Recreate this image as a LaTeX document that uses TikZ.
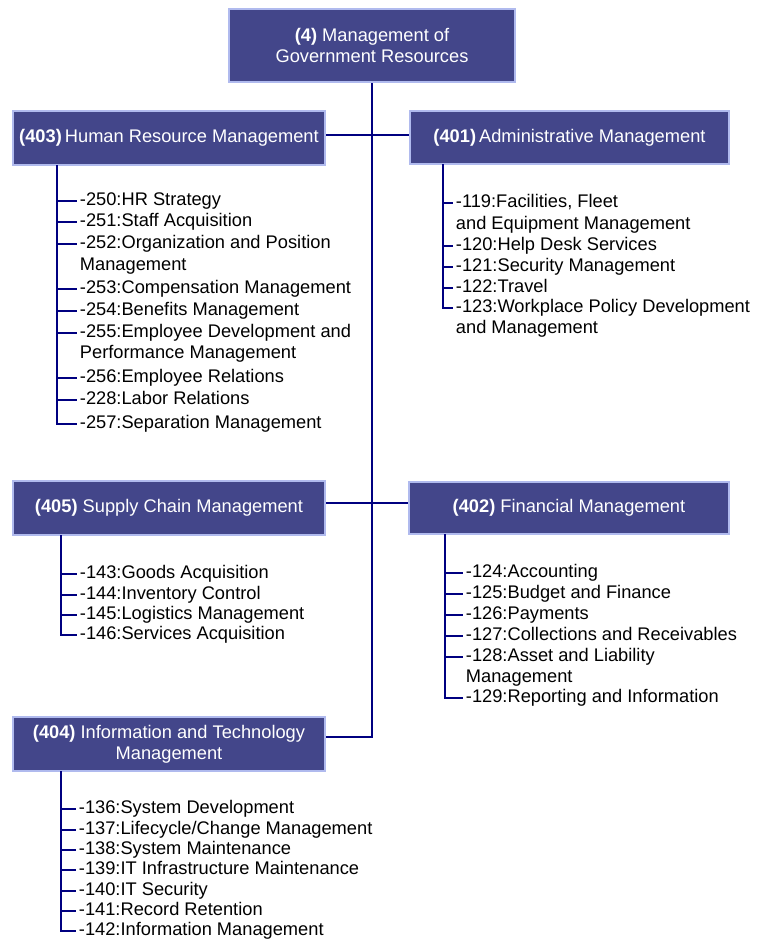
\documentclass[tikz,border=0pt]{standalone}
\usepackage{fontspec}
\setmainfont{Liberation Sans}
\definecolor{boxblue}{HTML}{43468A}
\definecolor{boxedge}{HTML}{B0BAEE}
\definecolor{linknavy}{HTML}{000080}

\begin{document}
\begin{tikzpicture}[x = 0.75pt, y = -0.75pt,
	area/.style = {fill=boxblue, draw=boxedge, line width=1.5pt, text=white, align=center, inner sep=0, font=\fontsize{13.7}{15.5}\selectfont},
	item/.style = {anchor=west, inner xsep=2pt, inner ysep=0, text height=10pt, text depth=3pt, font=\fontsize{13.7}{15.5}\selectfont},
	link/.style = {draw=linknavy, line width=1.5pt}]
	\useasboundingbox (0, 0) rectangle (764, 943);
	% boxes
	\node[area, minimum width=214.5pt, minimum height=54.75pt] (top) at (372, 45.5){\textbf{(4)} Management of\\Government Resources};
	\node[area, minimum width=234pt, minimum height=40.5pt] (hr) at (169, 137.5){\textbf{(403)}\,Human Resource Management};
	\node[area, minimum width=239.25pt, minimum height=39.75pt] (adm) at (569.5, 137.5){\textbf{(401)}\,Administrative Management};
	\node[area, minimum width=234pt, minimum height=40.5pt] (sc) at (169, 508){\textbf{(405)} Supply Chain Management};
	\node[area, minimum width=240pt, minimum height=39pt] (fin) at (569, 508){\textbf{(402)} Financial Management};
	\node[area, minimum width=234pt, minimum height=40.5pt] (it) at (169, 744){\textbf{(404)} Information and Technology\\Management};
	% trunk
	\draw[link] (top.south) |- ([yshift=5.25pt]it.east);
	\draw[link] ([yshift=1.8pt]hr.east) -- ([yshift=1.8pt]hr.east -| adm.west);
	\draw[link] ([yshift=4pt]sc.east) -- ([yshift=4pt]sc.east -| fin.west);
	% 403
	\coordinate (hrs) at (57, 165);
	\node[item] (h250) at (77, 201){-250:HR Strategy};
	\node[item] (h251) at (77, 222){-251:Staff Acquisition};
	\node[item] (h252) at (77, 244){-252:Organization and Position};
	\node[item] (h252b) at (77, 266){Management};
	\node[item] (h253) at (77, 289){-253:Compensation Management};
	\node[item] (h254) at (77, 311){-254:Benefits Management};
	\node[item] (h255) at (77, 333){-255:Employee Development and};
	\node[item] (h255b) at (77, 354){Performance Management};
	\node[item] (h256) at (77, 378){-256:Employee Relations};
	\node[item] (h228) at (77, 400){-228:Labor Relations};
	\node[item] (h257) at (77, 424){-257:Separation Management};
	\draw[link] (hrs) |- (h257);
	\draw[link] (hrs |- h250) -- (h250);
	\draw[link] (hrs |- h251) -- (h251);
	\draw[link] (hrs |- h252) -- (h252);
	\draw[link] (hrs |- h253) -- (h253);
	\draw[link] (hrs |- h254) -- (h254);
	\draw[link] (hrs |- h255) -- (h255);
	\draw[link] (hrs |- h256) -- (h256);
	\draw[link] (hrs |- h228) -- (h228);
	% 401
	\coordinate (adms) at (443, 164);
	\node[item] (a119) at (453, 203){-119:Facilities, Fleet};
	\node[item] (a119b) at (453, 225){and Equipment Management};
	\node[item] (a120) at (453, 246){-120:Help Desk Services};
	\node[item] (a121) at (453, 267){-121:Security Management};
	\node[item] (a122) at (453, 288){-122:Travel};
	\node[item] (a123) at (453, 308){-123:Workplace Policy Development};
	\node[item] (a123b) at (453, 329){and Management};
	\draw[link] (adms) |- (a123);
	\draw[link] (adms |- a119) -- (a119);
	\draw[link] (adms |- a120) -- (a120);
	\draw[link] (adms |- a121) -- (a121);
	\draw[link] (adms |- a122) -- (a122);
	% 405
	\coordinate (scs) at (61, 535);
	\node[item] (s143) at (77, 574){-143:Goods Acquisition};
	\node[item] (s144) at (77, 595){-144:Inventory Control};
	\node[item] (s145) at (77, 615){-145:Logistics Management};
	\node[item] (s146) at (77, 635){-146:Services Acquisition};
	\draw[link] (scs) |- (s146);
	\draw[link] (scs |- s143) -- (s143);
	\draw[link] (scs |- s144) -- (s144);
	\draw[link] (scs |- s145) -- (s145);
	% 402
	\coordinate (fins) at (445, 534);
	\node[item] (f124) at (463, 573){-124:Accounting};
	\node[item] (f125) at (463, 594){-125:Budget and Finance};
	\node[item] (f126) at (463, 615){-126:Payments};
	\node[item] (f127) at (463, 636){-127:Collections and Receivables};
	\node[item] (f128) at (463, 657){-128:Asset and Liability};
	\node[item] (f128b) at (463, 678){Management};
	\node[item] (f129) at (463, 698){-129:Reporting and Information};
	\draw[link] (fins) |- (f129);
	\draw[link] (fins |- f124) -- (f124);
	\draw[link] (fins |- f125) -- (f125);
	\draw[link] (fins |- f126) -- (f126);
	\draw[link] (fins |- f127) -- (f127);
	\draw[link] (fins |- f128) -- (f128);
	% 404
	\coordinate (its) at (61, 771);
	\node[item] (i136) at (76, 809){-136:System Development};
	\node[item] (i137) at (76, 830){-137:Lifecycle/Change Management};
	\node[item] (i138) at (76, 850){-138:System Maintenance};
	\node[item] (i139) at (76, 870){-139:IT Infrastructure Maintenance};
	\node[item] (i140) at (76, 891){-140:IT Security};
	\node[item] (i141) at (76, 911){-141:Record Retention};
	\node[item] (i142) at (76, 931){-142:Information Management};
	\draw[link] (its) |- (i142);
	\draw[link] (its |- i136) -- (i136);
	\draw[link] (its |- i137) -- (i137);
	\draw[link] (its |- i138) -- (i138);
	\draw[link] (its |- i139) -- (i139);
	\draw[link] (its |- i140) -- (i140);
	\draw[link] (its |- i141) -- (i141);
\end{tikzpicture}
\end{document}
